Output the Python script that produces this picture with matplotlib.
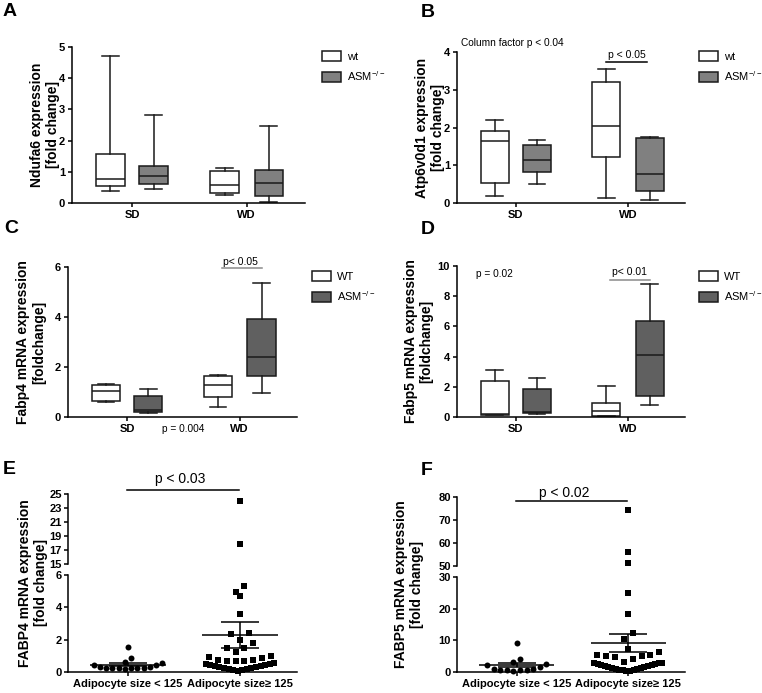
import numpy as np
import matplotlib
matplotlib.use("Agg")
import matplotlib.pyplot as plt
from matplotlib.patches import Patch

plt.rcParams['font.family'] = ['Liberation Sans', 'DejaVu Sans']
plt.rcParams['mathtext.default'] = 'regular'
plt.rcParams['axes.linewidth'] = 1.1
plt.rcParams['xtick.major.width'] = 1.1
plt.rcParams['ytick.major.width'] = 1.1
plt.rcParams['xtick.major.size'] = 3
plt.rcParams['ytick.major.size'] = 3

groups = ["SD", "WD"]
asm_label = "ASM$^{-/-}$"

# box & whisker values (min..max), order: wt SD, ASM SD, wt WD, ASM WD
ndufa6_min = [0.40, 0.45, 0.25, 0.02]
ndufa6_q1 = [0.56, 0.61, 0.31, 0.21]
ndufa6_med = [0.77, 0.87, 0.58, 0.65]
ndufa6_q3 = [1.58, 1.17, 1.04, 1.05]
ndufa6_max = [4.71, 2.81, 1.13, 2.48]

atp_min = [0.19, 0.50, 0.13, 0.09]
atp_q1 = [0.52, 0.81, 1.21, 0.33]
atp_med = [1.63, 1.14, 2.05, 0.77]
atp_q3 = [1.91, 1.53, 3.20, 1.71]
atp_max = [2.19, 1.67, 3.55, 1.76]

fabp4_min = [0.60, 0.17, 0.39, 0.96]
fabp4_q1 = [0.66, 0.20, 0.79, 1.66]
fabp4_med = [1.04, 0.27, 1.27, 2.40]
fabp4_q3 = [1.27, 0.84, 1.65, 3.94]
fabp4_max = [1.31, 1.12, 1.70, 5.38]

fabp5_min = [0.10, 0.22, 0.04, 0.82]
fabp5_q1 = [0.12, 0.27, 0.09, 1.36]
fabp5_med = [0.20, 0.33, 0.38, 4.09]
fabp5_q3 = [2.39, 1.84, 0.93, 6.36]
fabp5_max = [3.10, 2.59, 2.06, 8.80]

# scatter panels
size_groups = ["Adipocyte size < 125", "Adipocyte size\u2265 125"]
fabp4_small = [1.56, 0.84, 0.64, 0.58, 0.45, 0.43, 0.30, 0.27, 0.25, 0.22,
               0.21, 0.22, 0.24, 0.26, 0.28]
fabp4_large = [24.0, 17.8, 5.32, 4.97, 4.70, 3.61, 2.43, 2.37, 1.98, 1.81,
               1.50, 1.46, 1.26, 0.99, 0.93, 0.87, 0.76, 0.74, 0.70, 0.68,
               0.68, 0.55, 0.50, 0.46, 0.42, 0.38, 0.33, 0.28, 0.22, 0.16,
               0.10, 0.06, 0.12, 0.18, 0.25, 0.35, 0.50]
fabp5_small = [9.2, 4.15, 3.3, 2.55, 2.1, 1.6, 0.96, 0.74, 0.5, 0.2, 0.5,
               0.74, 0.96]
fabp5_large = [74.2, 56.2, 51.2, 25.0, 18.4, 12.2, 10.3, 7.3, 6.2, 5.4, 4.7,
               4.1, 3.3, 5.0, 5.2, 5.3, 3.0, 2.8, 2.5, 2.2, 1.9, 1.6, 1.3,
               1.0, 0.7, 0.5, 0.3, 0.4, 0.6, 0.9, 1.2, 1.5, 1.8, 2.1, 2.5, 2.9]

W, H = 762, 693
fig = plt.figure(figsize=(W / 100, H / 100), dpi=100)


def rect(x0, y_top, x1, y_bot):
    return [x0 / W, 1 - y_bot / H, (x1 - x0) / W, (y_bot - y_top) / H]


def style(ax, bottom=True):
    ax.spines['top'].set_visible(False)
    ax.spines['right'].set_visible(False)
    if not bottom:
        ax.spines['bottom'].set_visible(False)
        ax.tick_params(axis='x', bottom=False, labelbottom=False)
    ax.tick_params(labelsize=8, pad=2)
    for t in ax.get_xticklabels() + ax.get_yticklabels():
        t.set_fontweight('bold')
    ax.set_xlim(0, 1)


def box_panel(r, mins, q1s, meds, q3s, maxs, ymax, ystep, ylabel, fill,
              wt_label, label_x, leg_xy):
    ax = fig.add_axes(r)
    pos = [0.258 - 0.093, 0.258 + 0.093, 0.75 - 0.095, 0.75 + 0.095]
    stats = [dict(whislo=a, q1=b, med=c, q3=d, whishi=e)
             for a, b, c, d, e in zip(mins, q1s, meds, q3s, maxs)]
    bp = ax.bxp(stats, positions=pos, widths=0.123, capwidths=0.072,
                patch_artist=True, showfliers=False, manage_ticks=False,
                boxprops=dict(edgecolor='#1a1a1a', linewidth=1.1),
                medianprops=dict(color='#1a1a1a', linewidth=1.1),
                whiskerprops=dict(color='#1a1a1a', linewidth=1.1),
                capprops=dict(color='#1a1a1a', linewidth=1.1))
    for patch, c in zip(bp['boxes'], ['white', fill, 'white', fill]):
        patch.set_facecolor(c)
    ax.set_ylim(0, ymax)
    ax.set_yticks(np.arange(0, ymax + 0.01, ystep))
    ax.set_xticks([0.258, 0.75])
    ax.set_xticklabels(groups)
    style(ax)
    ax.set_ylabel(ylabel, fontsize=10, fontweight='bold', linespacing=1.15)
    ax.yaxis.set_label_coords(label_x, 0.5)
    handles = [Patch(facecolor='white', edgecolor='#1a1a1a', linewidth=1.1),
               Patch(facecolor=fill, edgecolor='#1a1a1a', linewidth=1.1)]
    ax.legend(handles, [wt_label, asm_label], loc='upper left',
              bbox_to_anchor=(leg_xy[0] / W, 1 - leg_xy[1] / H),
              bbox_transform=fig.transFigure, frameon=False, fontsize=8,
              handlelength=1.75, handleheight=1.05, labelspacing=0.65,
              handletextpad=0.5, borderpad=0, borderaxespad=0)
    return ax


def swarm_x(vals, center, bin_h, step, max_w):
    vals = np.asarray(vals, float)
    xs = np.full(len(vals), center)
    bins = np.floor(vals / bin_h).astype(int)
    for b in np.unique(bins):
        idx = np.where(bins == b)[0]
        idx = idx[np.argsort(vals[idx])]
        k = len(idx)
        if k == 1:
            continue
        slots = np.arange(k) - (k - 1) / 2
        slots = slots[np.argsort(np.abs(slots), kind='stable')]
        d = min(step, max_w / (k - 1))
        xs[idx] = center + slots * d
    return xs


def scatter_panel(r_low, r_up, small, large, low_max, low_step, up_min,
                  up_max, up_step, bin_h, ylabel, label_x, ptext, line_y,
                  text_y, text_x):
    ax_lo = fig.add_axes(r_low)
    ax_up = fig.add_axes(r_up)
    centers = [0.262, 0.751]
    for vals, c, mk, st in [(small, centers[0], 'o', 0.029),
                            (large, centers[1], 's', 0.039)]:
        v = np.asarray(vals, float)
        xs = swarm_x(v, c, bin_h, st, 0.3)
        lo = v <= low_max
        ax_lo.plot(xs[lo], v[lo], mk, color='black', ms=4.3, mew=0,
                   clip_on=False, zorder=2)
        ax_up.plot(xs[~lo], v[~lo], mk, color='black', ms=4.3, mew=0,
                   clip_on=False, zorder=2)
        m = v.mean()
        sem = v.std(ddof=1) / np.sqrt(len(v))
        ax_lo.hlines(m, c - 0.165, c + 0.165, color='black', lw=1.1, zorder=3)
        ax_lo.vlines(c, m - sem, m + sem, color='black', lw=1.1, zorder=3)
        ax_lo.hlines([m - sem, m + sem], c - 0.083, c + 0.083,
                     color='black', lw=1.1, zorder=3)
    ax_lo.set_ylim(0, low_max)
    ax_lo.set_yticks(np.arange(0, low_max + 0.01, low_step))
    ax_lo.set_xticks(centers)
    ax_lo.set_xticklabels(size_groups)
    ax_up.set_ylim(up_min, up_max)
    ax_up.set_yticks(np.arange(up_min, up_max + 0.01, up_step))
    style(ax_lo)
    style(ax_up, bottom=False)
    for a in (ax_lo, ax_up):
        a.tick_params(axis='y', pad=1.5)
    ax_up.plot([centers[0] - 0.004, centers[1] - 0.004], [line_y, line_y],
               color='black', lw=1.1, transform=ax_up.transAxes,
               clip_on=False)
    ax_up.text(text_x, text_y, ptext, transform=ax_up.transAxes,
               ha='center', va='center', fontsize=10)
    # shared y label for both segments
    b_lo = ax_lo.get_position()
    b_up = ax_up.get_position()
    fig.text(label_x / W, (b_lo.y0 + b_up.y1) / 2, ylabel, rotation=90,
             ha='center', va='center', fontsize=10, fontweight='bold',
             linespacing=1.15)
    return ax_lo, ax_up


# A
box_panel(rect(72, 47, 305, 203), ndufa6_min, ndufa6_q1, ndufa6_med,
          ndufa6_q3, ndufa6_max, 5, 1,
          "Ndufa6 expression\n[fold change]", '#808080', 'wt', -0.052,
          (322, 51))

# B
axB = box_panel(rect(457, 52, 685, 203), atp_min, atp_q1, atp_med, atp_q3,
                atp_max, 4, 1, "Atp6v0d1 expression\n[fold change]",
                '#808080', 'wt', -0.053, (699, 51))
axB.plot([0.655, 0.832], [3.74, 3.74], color='black', lw=1.1)
axB.text(0.744, 3.92, "p < 0.05", ha='center', va='center', fontsize=7.5)
axB.text(0.018, 1.06, "Column factor p < 0.04", transform=axB.transAxes,
         ha='left', va='center', fontsize=7.3)

# C
axC = box_panel(rect(68, 267, 297, 417), fabp4_min, fabp4_q1, fabp4_med,
                fabp4_q3, fabp4_max, 6, 2,
                "Fabp4 mRNA expression\n[foldchange]", '#606060', 'WT',
                -0.096, (312, 271))
axC.plot([0.671, 0.847], [5.95, 5.95], color='#8a8a8a', lw=1.1,
         clip_on=False)
axC.text(0.755, 6.22, "p< 0.05", ha='center', va='center', fontsize=7.5)
axC.text(0.505, -0.08, "p = 0.004", transform=axC.transAxes, ha='center',
         va='center', fontsize=7.3)

# D
axD = box_panel(rect(457, 266, 685, 417), fabp5_min, fabp5_q1, fabp5_med,
                fabp5_q3, fabp5_max, 10, 2,
                "Fabp5 mRNA expression\n[foldchange]", '#606060', 'WT',
                -0.103, (699, 271))
axD.plot([0.673, 0.848], [9.1, 9.1], color='#8a8a8a', lw=1.1)
axD.text(0.756, 9.58, "p< 0.01", ha='center', va='center', fontsize=7.5)
axD.text(0.083, 9.45, "p = 0.02", ha='left', va='center', fontsize=7.3)

# E
scatter_panel(rect(68, 575, 297, 672), rect(68, 494, 297, 564),
              fabp4_small, fabp4_large, 6, 2, 15, 25, 2, 0.62,
              "FABP4 mRNA expression\n[fold change]", 33, "p < 0.03",
              1.057, 1.214, 0.49)

# F
scatter_panel(rect(457, 577, 685, 672), rect(457, 497, 685, 566),
              fabp5_small, fabp5_large, 30, 10, 50, 80, 10, 3.2,
              "FABP5 mRNA expression\n[fold change]", 409, "p < 0.02",
              0.942, 1.058, 0.472)

# panel letters
for letter, x, y in [("A", 3, 3), ("B", 421, 4), ("C", 4, 220),
                     ("D", 421, 221), ("E", 3, 461), ("F", 421, 462)]:
    fig.text(x / W, 1 - y / H, letter, fontsize=14, fontweight='bold',
             ha='left', va='top')

fig.savefig("out.png", dpi=100)
